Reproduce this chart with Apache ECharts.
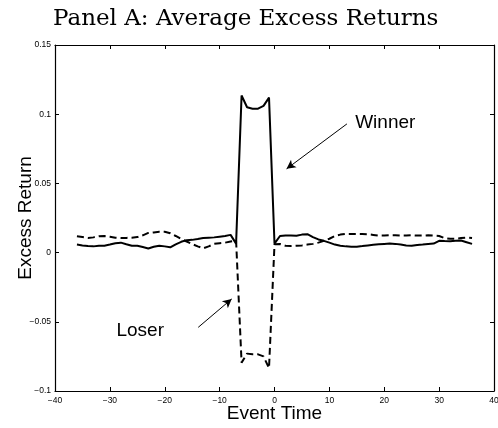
<!DOCTYPE html>
<html>
<head>
<meta charset="utf-8">
<script src="https://cdn.jsdelivr.net/npm/echarts@6/dist/echarts.min.js"></script>
<style>html,body{margin:0;padding:0;background:#fff}#c{width:498px;height:428px}</style>
</head>
<body>
<div id="c"></div>
<script>
// Event time (x) and series values
var eventTime = [];
for (var t = -36; t <= 36; t++) eventTime.push(t);

var winner = [
 0.0058,0.0052,0.0047,0.0045,0.0050,0.0050,0.0058,0.0068,0.0072,0.0060,
 0.0050,0.0050,0.0040,0.0030,0.0042,0.0050,0.0045,0.0038,0.0060,0.0078,
 0.0090,0.0092,0.0098,0.0105,0.0108,0.0110,0.0115,0.0120,0.0128,0.0065,
 0.1135,0.1050,0.1040,0.1040,0.1060,0.1120,
 0.0065,0.0120,0.0123,0.0123,0.0122,0.0130,0.0133,0.0112,0.0095,0.0085,
 0.0072,0.0058,0.0050,0.0045,0.0043,0.0043,0.0047,0.0052,0.0056,0.0060,
 0.0063,0.0065,0.0063,0.0058,0.0052,0.0050,0.0055,0.0058,0.0062,0.0065,
 0.0085,0.0083,0.0082,0.0085,0.0087,0.0075,0.0063
];
var loser = [
 0.0118,0.0112,0.0106,0.0110,0.0118,0.0120,0.0115,0.0108,0.0106,0.0106,
 0.0108,0.0112,0.0125,0.0142,0.0146,0.0150,0.0150,0.0140,0.0120,0.0098,
 0.0080,0.0062,0.0045,0.0031,0.0045,0.0063,0.0068,0.0072,0.0080,0.0087,
 -0.0795,-0.0730,-0.0735,-0.0735,-0.0750,-0.0835,
 0.0060,0.0062,0.0050,0.0048,0.0050,0.0052,0.0058,0.0063,0.0072,0.0085,
 0.0100,0.0120,0.0130,0.0135,0.0135,0.0135,0.0135,0.0133,0.0128,0.0123,
 0.0123,0.0125,0.0125,0.0123,0.0123,0.0125,0.0123,0.0123,0.0125,0.0123,
 0.0120,0.0105,0.0100,0.0100,0.0105,0.0108,0.0105
];
var xTicks = [-40,-30,-20,-10,0,10,20,30,40];
var yTicks = [-0.1,-0.05,0,0.05,0.1,0.15];

// annotation anchors in data coordinates
var winnerArrow = [[13.2, 0.093],[2.2, 0.0605]];
var loserArrow = [[-13.9, -0.054],[-7.8, -0.0335]];
var winnerLabel = [14.7, 0.094];
var loserLabel = [-28.8, -0.0564];

function fmt(v){
  var s = String(Math.round(v*1000)/1000);
  return s.replace('-', '\u2212');
}
function pairs(xs, ys){ return xs.map(function(x,i){return [x, ys[i]];}); }

var chart = echarts.init(document.getElementById('c'), null, {renderer:'canvas'});
var axisCommon = {
  type:'value', axisLine:{show:true, onZero:false, lineStyle:{color:'#000', width:1.2}},
  axisTick:{show:true, inside:true, length:4, lineStyle:{color:'#000', width:1}},
  splitLine:{show:false}
};
chart.setOption({
  animation:false,
  backgroundColor:'#fff',
  title:{text:'Panel A: Average Excess Returns', left:48, top:3,
    textStyle:{fontFamily:'DejaVu Serif', fontWeight:'normal', fontSize:23, color:'#000'}},
  grid:{left:55, right:4, top:45, bottom:37, containLabel:false, outerBoundsMode:'none'},
  xAxis:[
    Object.assign({}, axisCommon, {position:'bottom', min:-40, max:40, interval:10,
      name:'Event Time', nameLocation:'middle', nameGap:13, nameMoveOverlap:false,
      nameTextStyle:{fontFamily:'Liberation Sans', fontSize:19, color:'#000', verticalAlign:'top'},
      axisLabel:{show:true, margin:5, fontFamily:'Liberation Sans', fontSize:8.5, color:'#000', formatter:fmt}}),
    Object.assign({}, axisCommon, {position:'top', min:-40, max:40, interval:10, axisLabel:{show:false}})
  ],
  yAxis:[
    Object.assign({}, axisCommon, {position:'left', min:-0.1, max:0.15, interval:0.05,
      name:'Excess Return', nameLocation:'middle', nameGap:20, nameMoveOverlap:false,
      nameTextStyle:{fontFamily:'Liberation Sans', fontSize:19, color:'#000'},
      axisLabel:{show:true, margin:4, fontFamily:'Liberation Sans', fontSize:8.5, color:'#000', formatter:fmt}}),
    Object.assign({}, axisCommon, {position:'right', min:-0.1, max:0.15, interval:0.05, axisLabel:{show:false}})
  ],
  series:[
    {name:'Winner', type:'line', data:pairs(eventTime, winner), showSymbol:false, symbol:'none',
      lineStyle:{color:'#000', width:2}, silent:true,
      markLine:{silent:true, symbol:['none','arrow'], symbolSize:[7,9],
        lineStyle:{color:'#000', width:1, type:'solid'}, label:{show:false},
        data:[[{coord:winnerArrow[0]},{coord:winnerArrow[1]}]]},
      markPoint:{silent:true, symbol:'circle', symbolSize:0,
        label:{show:true, position:'right', distance:0, formatter:'Winner',
          fontFamily:'Liberation Sans', fontSize:19, color:'#000'},
        data:[{coord:winnerLabel}]}
    },
    {name:'Loser', type:'line', data:pairs(eventTime, loser), showSymbol:false, symbol:'none',
      lineStyle:{color:'#000', width:2, type:[7,4]}, silent:true,
      markLine:{silent:true, symbol:['none','arrow'], symbolSize:[7,9],
        lineStyle:{color:'#000', width:1, type:'solid'}, label:{show:false},
        data:[[{coord:loserArrow[0]},{coord:loserArrow[1]}]]},
      markPoint:{silent:true, symbol:'circle', symbolSize:0,
        label:{show:true, position:'right', distance:0, formatter:'Loser',
          fontFamily:'Liberation Sans', fontSize:19, color:'#000'},
        data:[{coord:loserLabel}]}
    }
  ]
});
</script>
</body>
</html>
